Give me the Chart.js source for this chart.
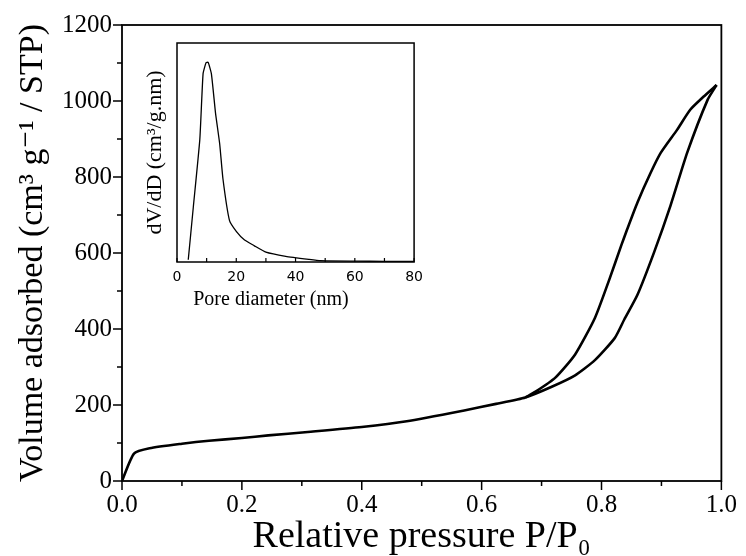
<!DOCTYPE html>
<html>
<head>
<meta charset="utf-8">
<script src="https://cdn.jsdelivr.net/npm/chart.js@4.4.0/dist/chart.umd.min.js"></script>
<style>
  html, body { margin: 0; padding: 0; background: #fff; }
  #wrap { position: relative; width: 746px; height: 556px; }
  #main { position: absolute; left: 0; top: 0; }
  #inset { position: absolute; left: 140px; top: 30px; }
</style>
</head>
<body>
<div id="wrap">
  <canvas id="main" width="746" height="556"></canvas>
  <canvas id="inset" width="290" height="300"></canvas>
</div>
<script>
/* N2 isotherm — adsorption branch (lower) */
var ADS_P = [0, 0.02, 0.046, 0.1, 0.145, 0.2, 0.244, 0.31, 0.4, 0.475, 0.569, 0.624, 0.673, 0.717, 0.756, 0.789, 0.822, 0.838, 0.86, 0.888, 0.915, 0.943, 0.977, 0.992];
var ADS_V = [0, 72, 86, 98, 106, 113, 120, 129, 142, 157, 185, 203, 220, 248, 278, 318, 376, 425, 490, 603, 724, 864, 1003, 1042];

/* desorption branch (upper) */
var DES_P = [0.992, 0.97, 0.948, 0.926, 0.899, 0.882, 0.86, 0.843, 0.833, 0.813, 0.789, 0.756, 0.723, 0.69, 0.673];
var DES_V = [1042, 1011, 977, 924, 864, 811, 733, 663, 620, 530, 429, 333, 272, 235, 220];

/* inset — pore size distribution */
var PORE_D  = [3.8, 5.5, 7.7, 8.8, 9.8, 10.5, 11.6, 13, 14.4, 15.5, 17.7, 20, 22.8, 26, 30, 36.7, 44.5, 48.4, 60, 70, 80];
var PORE_DV = [0.01, 0.25, 0.56, 0.86, 0.91, 0.912, 0.86, 0.68, 0.54, 0.38, 0.19, 0.14, 0.10, 0.075, 0.045, 0.026, 0.012, 0.006, 0.004, 0.003, 0.003];

function pts(xs, ys) {
  return xs.map(function (x, i) { return { x: x, y: ys[i] }; });
}

/* box frame + tick marks (dir 1 = outward, -1 = inward) */
function frameTicks(o) {
  return {
    id: 'frameTicks',
    afterDraw: function (chart) {
      var ctx = chart.ctx, a = chart.chartArea;
      var xs = chart.scales.x, ys = chart.scales.y;
      ctx.save();
      ctx.strokeStyle = '#000';
      ctx.lineWidth = o.frame;
      ctx.strokeRect(a.left, a.top, a.right - a.left, a.bottom - a.top);
      ctx.lineWidth = o.tick;
      ctx.beginPath();
      xs.ticks.forEach(function (t) {
        var px = xs.getPixelForValue(t.value);
        var len = t.label ? o.major : o.minor;
        ctx.moveTo(px, a.bottom); ctx.lineTo(px, a.bottom + o.dir * len);
      });
      if (o.yTicks) {
        ys.ticks.forEach(function (t) {
          var py = ys.getPixelForValue(t.value);
          var len = t.label ? o.major : o.minor;
          ctx.moveTo(a.left, py); ctx.lineTo(a.left - o.dir * len, py);
        });
      }
      ctx.stroke();
      if (o.xTitle) {
        ctx.fillStyle = '#000';
        ctx.font = o.xTitle.font;
        ctx.textAlign = 'center'; ctx.textBaseline = 'middle';
        ctx.fillText(o.xTitle.text, o.xTitle.x, o.xTitle.y);
      }
      ctx.restore();
    }
  };
}

var SERIF = "'Liberation Serif', 'DejaVu Serif', serif";

new Chart(document.getElementById('main'), {
  type: 'scatter',
  data: {
    datasets: [
      { label: 'Adsorption', data: pts(ADS_P, ADS_V), showLine: true, borderColor: '#000', borderWidth: 2.6, pointRadius: 0, tension: 0.2 },
      { label: 'Desorption', data: pts(DES_P, DES_V), showLine: true, borderColor: '#000', borderWidth: 2.6, pointRadius: 0, tension: 0.2 }
    ]
  },
  options: {
    responsive: false,
    animation: false,
    layout: { padding: { top: 21, right: 18, left: 0, bottom: 0 } },
    plugins: { legend: { display: false }, tooltip: { enabled: false } },
    scales: {
      x: {
        type: 'linear', min: 0, max: 1,
        afterFit: function (s) { s.height = 75; },
        grid: { display: false, drawTicks: false },
        border: { display: false },
        ticks: {
          stepSize: 0.1, padding: 9, color: '#000', maxRotation: 0, autoSkip: false,
          font: { family: SERIF, size: 25 },
          callback: function (v) { return Math.round(v * 10) % 2 === 0 ? v.toFixed(1) : ''; }
        },
        title: { display: true, text: 'Relative pressure P/P\u2080', color: '#000',
                 font: { family: SERIF, size: 38, lineHeight: 1 }, padding: { top: 0, bottom: 0 } }
      },
      y: {
        min: 0, max: 1200,
        afterFit: function (s) { s.width = 122; },
        grid: { display: false, drawTicks: false },
        border: { display: false },
        ticks: {
          stepSize: 100, padding: 10, color: '#000', autoSkip: false,
          font: { family: SERIF, size: 25 },
          callback: function (v) { return v % 200 === 0 ? String(v) : ''; }
        },
        title: { display: true, text: 'Volume adsorbed (cm\u00b3 g\u207b\u00b9 / STP)', color: '#000',
                 font: { family: SERIF, size: 34, lineHeight: 1 }, padding: { top: 16, bottom: 0 } }
      }
    }
  },
  plugins: [frameTicks({ frame: 1.8, tick: 1.5, major: 9, minor: 5, dir: 1, yTicks: true })]
});

new Chart(document.getElementById('inset'), {
  type: 'scatter',
  data: {
    datasets: [
      { label: 'PSD', data: pts(PORE_D, PORE_DV), showLine: true, borderColor: '#000', borderWidth: 1.3, pointRadius: 0, tension: 0.15 }
    ]
  },
  options: {
    responsive: false,
    animation: false,
    layout: { padding: { top: 13, right: 14, left: 0, bottom: 0 } },
    plugins: { legend: { display: false }, tooltip: { enabled: false } },
    scales: {
      x: {
        type: 'linear', min: 0, max: 80,
        afterFit: function (s) { s.height = 68; },
        grid: { display: false, drawTicks: false },
        border: { display: false },
        ticks: {
          stepSize: 10, padding: 7, color: '#000', maxRotation: 0, autoSkip: false,
          font: { family: "'DejaVu Sans', sans-serif", size: 14 },
          callback: function (v) { return v % 20 === 0 ? String(v) : ''; }
        }
      },
      y: {
        min: 0, max: 1,
        afterFit: function (s) { s.width = 37; },
        grid: { display: false, drawTicks: false },
        border: { display: false },
        ticks: { display: false },
        title: { display: true, text: 'dV/dD (cm\u00b3/g.nm)', color: '#000',
                 font: { family: SERIF, size: 22, lineHeight: 1 }, padding: { top: 4, bottom: 0 } }
      }
    }
  },
  plugins: [frameTicks({ frame: 1.5, tick: 1.2, major: 4, minor: 4, dir: -1, yTicks: false,
    xTitle: { text: 'Pore diameter (nm)', font: '20px ' + SERIF, x: 131, y: 270 } })]
});
</script>
</body>
</html>
